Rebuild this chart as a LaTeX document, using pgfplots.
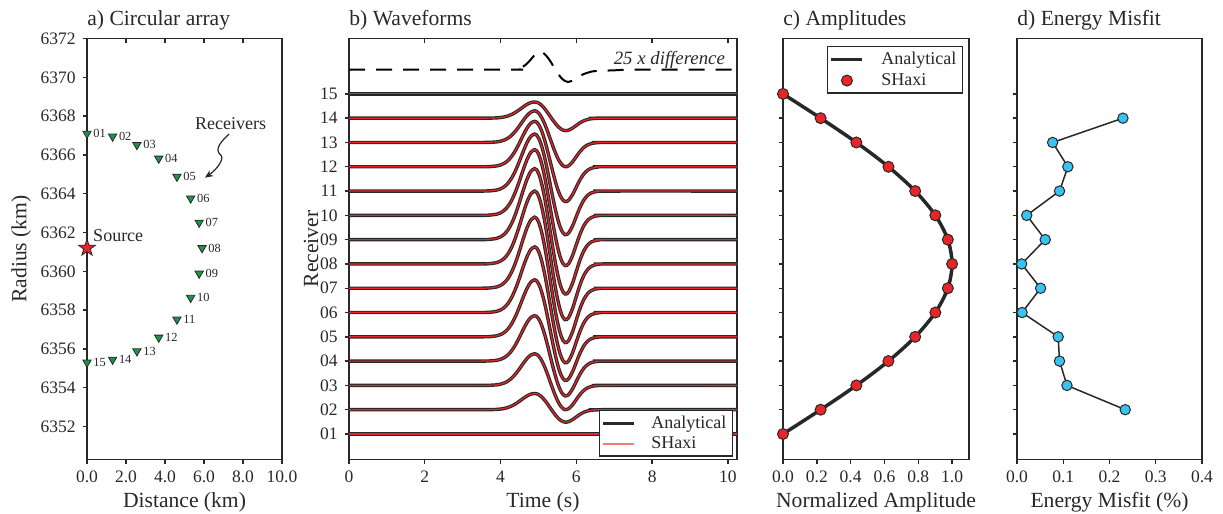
\documentclass[border=0pt]{standalone}
\usepackage{fontspec}
\setmainfont{Liberation Serif}
\usepackage{pgfplots}
\usepackage{pgfplotstable}
\pgfplotsset{compat=1.18}
\usetikzlibrary{arrows.meta}
\definecolor{mred}{RGB}{232,38,42}
\definecolor{lred}{RGB}{240,125,125}
\definecolor{mgreen}{RGB}{28,150,70}
\definecolor{mcyan}{RGB}{58,194,240}
\definecolor{dk}{RGB}{40,40,40}

\pgfdeclareplotmark{fstar}{%
  \pgfpathmoveto{\pgfpointpolar{90}{\pgfplotmarksize}}%
  \pgfpathlineto{\pgfpointpolar{126}{0.4\pgfplotmarksize}}%
  \pgfpathlineto{\pgfpointpolar{162}{\pgfplotmarksize}}%
  \pgfpathlineto{\pgfpointpolar{198}{0.4\pgfplotmarksize}}%
  \pgfpathlineto{\pgfpointpolar{234}{\pgfplotmarksize}}%
  \pgfpathlineto{\pgfpointpolar{270}{0.4\pgfplotmarksize}}%
  \pgfpathlineto{\pgfpointpolar{306}{\pgfplotmarksize}}%
  \pgfpathlineto{\pgfpointpolar{342}{0.4\pgfplotmarksize}}%
  \pgfpathlineto{\pgfpointpolar{18}{\pgfplotmarksize}}%
  \pgfpathlineto{\pgfpointpolar{54}{0.4\pgfplotmarksize}}%
  \pgfpathclose
  \pgfusepathqfillstroke}

% receiver positions
\pgfplotstableread{
x y lab
0.000 6367.100 01
1.313 6366.952 02
2.560 6366.516 03
3.679 6365.813 04
4.613 6364.879 05
5.316 6363.760 06
5.752 6362.513 07
5.900 6361.200 08
5.752 6359.887 09
5.316 6358.640 10
4.613 6357.521 11
3.679 6356.587 12
2.560 6355.884 13
1.313 6355.448 14
0.000 6355.300 15
}\recv

% base waveform (unit amplitude, in trace-spacing units)
\pgfplotstableread{
t w
0 0
3.30 0
3.50 0.001
3.70 0.009
3.90 0.055
4.00 0.118
4.10 0.232
4.20 0.423
4.30 0.711
4.40 1.104
4.50 1.581
4.60 2.093
4.70 2.557
4.80 2.883
4.90 3.000
4.95 2.951
5.00 2.808
5.05 2.574
5.10 2.260
5.15 1.876
5.20 1.438
5.25 0.954
5.30 0.451
5.35 -0.055
5.40 -0.546
5.45 -1.004
5.50 -1.413
5.55 -1.759
5.60 -2.026
5.65 -2.206
5.70 -2.294
5.75 -2.286
5.80 -2.200
5.90 -1.838
6.00 -1.336
6.10 -0.846
6.20 -0.466
6.30 -0.224
6.40 -0.094
6.50 -0.034
6.60 -0.011
6.80 0
10.24 0
}\wave

% 25 x difference trace
\pgfplotstableread{
t y
0 16
4.30 16.00
4.40 16.01
4.50 16.05
4.60 16.13
4.70 16.25
4.80 16.42
4.90 16.60
5.00 16.73
5.05 16.75
5.10 16.72
5.20 16.58
5.30 16.38
5.40 16.12
5.50 15.87
5.60 15.66
5.70 15.53
5.78 15.49
5.90 15.55
6.00 15.63
6.10 15.74
6.20 15.82
6.36 15.90
6.50 15.94
7.00 15.97
7.60 16.00
10.24 16.00
}\diff

% normalized amplitudes
\pgfplotstableread{
k a
1 0.0000
2 0.2225
3 0.4339
4 0.6235
5 0.7818
6 0.9010
7 0.9749
8 1.0000
9 0.9749
10 0.9010
11 0.7818
12 0.6235
13 0.4339
14 0.2225
15 0.0000
}\amps

% energy misfit (%)
\pgfplotstableread{
k m
2 0.234
3 0.108
4 0.092
5 0.089
6 0.011
7 0.051
8 0.010
9 0.061
10 0.021
11 0.092
12 0.110
13 0.077
14 0.229
}\misfit

\pgfplotsset{
  myax/.style={
    scale only axis, height=210.5pt, anchor=south west,
    axis line style={line width=0.9pt, draw=dk},
    tick style={line width=0.7pt, draw=dk},
    major tick length=2.2pt, tick align=outside,
    xtick pos=bottom, ytick pos=left,
    tick label style={font=\fontsize{8.75}{10}\selectfont, text=dk},
    label style={font=\fontsize{10.8}{12}\selectfont, text=dk},
    title style={font=\fontsize{10.8}{12}\selectfont, text=dk, at={(0,1)}, anchor=base west, inner sep=0pt, yshift=0.4pt},
    /pgf/number format/assume math mode=true,
    xlabel style={at={(axis description cs:0.5,-0.101)}, anchor=center},
  },
  topticks/.style={
    scale only axis, height=210.5pt, anchor=south west,
    axis x line*=top, axis y line=none, axis line style={draw=none},
    tick style={line width=0.7pt, draw=dk}, major tick length=2.2pt,
    tick align=inside, xticklabels={}, ymin=0, ymax=1,
  },
  blk/.style={line width=1.7pt, color=dk, smooth},
  rd/.style={line width=0.6pt, color=mred, smooth},
  legLine/.style={legend image code/.code={\draw[##1] (0pt,0pt) -- (15.5pt,0pt); \path[draw=none] (0pt,0pt) -- (23pt,0pt);}},
  legLineB/.style={legend image code/.code={\draw[##1] (0pt,0pt) -- (15.5pt,0pt); \path[draw=none] (0pt,0pt) -- (22pt,0pt);}},
  legMark/.style={legend image code/.code={\draw[##1] plot coordinates {(7.75pt,0pt)}; \path[draw=none] (0pt,0pt) -- (23pt,0pt);}},
}

\begin{document}
\begin{tikzpicture}
\path[use as bounding box] (0,0) rectangle (611.5pt,257pt);

% ---------------- a) Circular array
\begin{axis}[myax, at={(43.5pt,27.25pt)}, width=97.5pt,
  xmin=0, xmax=10, ymin=6350.3, ymax=6372,
  xtick={0,2,...,10}, ytick={6352,6354,...,6372},
  xticklabel style={/pgf/number format/.cd, fixed, fixed zerofill, precision=1},
  yticklabel style={/pgf/number format/.cd, 1000 sep={}},
  title={a) Circular array}, xlabel={Distance (km)}, ylabel={Radius (km)},
  ylabel style={at={(axis description cs:-0.338,0.5)}, anchor=center},
  clip=false]
\addplot[only marks, mark=triangle*, mark size=2.4pt,
  mark options={rotate=180, fill=mgreen, draw=dk, line width=0.4pt},
  nodes near coords, point meta=explicit symbolic,
  every node near coord/.append style={anchor=west, font=\fontsize{6.2}{7}\selectfont, text=dk, inner sep=0pt, xshift=3pt}]
  table[x=x, y=y, meta=lab] {\recv};
\addplot[only marks, mark=fstar, mark size=4.4pt,
  mark options={fill=mred, draw=dk, line width=0.4pt}]
  coordinates {(0,6361.2)};
\node[anchor=west, font=\fontsize{9}{10}\selectfont, text=dk, inner sep=0pt] at (axis cs:0.3,6361.85) {Source};
\node[anchor=center, font=\fontsize{9}{10}\selectfont, text=dk, inner sep=0pt] at (axis cs:7.36,6367.6) {Receivers};
\draw[dk, line width=0.6pt, -{Stealth[length=4pt,width=3.5pt]}]
  (axis cs:7.28,6367.08) .. controls (axis cs:6.9,6366.7) and (axis cs:6.5,6366.3) .. (axis cs:6.85,6366.0)
  .. controls (axis cs:7.1,6365.8) and (axis cs:6.6,6365.2) .. (axis cs:6.05,6364.83);
\end{axis}
\begin{axis}[topticks, at={(43.5pt,27.25pt)}, width=97.5pt, xmin=0, xmax=10, xtick={0,2,...,10}]
\addplot[draw=none, forget plot] coordinates {(0,0)};
\end{axis}

% ---------------- b) Waveforms
\begin{axis}[myax, at={(174.5pt,27.25pt)}, width=194pt,
  xmin=0, xmax=10.24, ymin=-0.05, ymax=17.28,
  xtick={0,2,...,10}, ytick={1,...,15},
  yticklabels={01,02,03,04,05,06,07,08,09,10,11,12,13,14,15},
  title={b) Waveforms}, xlabel={Time (s)}, ylabel={Receiver},
  ylabel style={at={(axis description cs:-0.098,0.5)}, anchor=center},
  legend style={at={(1,0)}, anchor=south east, xshift=-2pt, yshift=1.4pt,
    draw=dk, line width=0.6pt, font=\fontsize{9}{10}\selectfont, text=dk,
    inner xsep=1pt, inner ysep=0.5pt, row sep=-1.5pt},
  legend cell align=left]
\addlegendimage{line width=1.7pt, color=dk, legLineB}
\addlegendentry{Analytical}
\addlegendimage{line width=0.9pt, color=lred, legLineB}
\addlegendentry{SHaxi}
\addplot[line width=1pt, color=black, dash pattern=on 8pt off 5.5pt, smooth, forget plot] table[x=t, y=y] {\diff};
\node[anchor=east, font=\fontsize{9.4}{10}\selectfont\itshape, text=dk, inner sep=0pt] at (axis cs:9.93,16.42) {25 x difference};
\addplot[blk, forget plot] table[x=t, y expr=15+0.0000*\thisrow{w}] {\wave};
\addplot[rd,  forget plot] table[x=t, y expr=15+0.0000*\thisrow{w}] {\wave};
\addplot[blk, forget plot] table[x=t, y expr=14+0.2225*\thisrow{w}] {\wave};
\addplot[rd,  forget plot] table[x=t, y expr=14+0.2225*\thisrow{w}] {\wave};
\addplot[blk, forget plot] table[x=t, y expr=13+0.4339*\thisrow{w}] {\wave};
\addplot[rd,  forget plot] table[x=t, y expr=13+0.4339*\thisrow{w}] {\wave};
\addplot[blk, forget plot] table[x=t, y expr=12+0.6235*\thisrow{w}] {\wave};
\addplot[rd,  forget plot] table[x=t, y expr=12+0.6235*\thisrow{w}] {\wave};
\addplot[blk, forget plot] table[x=t, y expr=11+0.7818*\thisrow{w}] {\wave};
\addplot[rd,  forget plot] table[x=t, y expr=11+0.7818*\thisrow{w}] {\wave};
\addplot[blk, forget plot] table[x=t, y expr=10+0.9010*\thisrow{w}] {\wave};
\addplot[rd,  forget plot] table[x=t, y expr=10+0.9010*\thisrow{w}] {\wave};
\addplot[blk, forget plot] table[x=t, y expr=9+0.9749*\thisrow{w}] {\wave};
\addplot[rd,  forget plot] table[x=t, y expr=9+0.9749*\thisrow{w}] {\wave};
\addplot[blk, forget plot] table[x=t, y expr=8+1.0000*\thisrow{w}] {\wave};
\addplot[rd,  forget plot] table[x=t, y expr=8+1.0000*\thisrow{w}] {\wave};
\addplot[blk, forget plot] table[x=t, y expr=7+0.9749*\thisrow{w}] {\wave};
\addplot[rd,  forget plot] table[x=t, y expr=7+0.9749*\thisrow{w}] {\wave};
\addplot[blk, forget plot] table[x=t, y expr=6+0.9010*\thisrow{w}] {\wave};
\addplot[rd,  forget plot] table[x=t, y expr=6+0.9010*\thisrow{w}] {\wave};
\addplot[blk, forget plot] table[x=t, y expr=5+0.7818*\thisrow{w}] {\wave};
\addplot[rd,  forget plot] table[x=t, y expr=5+0.7818*\thisrow{w}] {\wave};
\addplot[blk, forget plot] table[x=t, y expr=4+0.6235*\thisrow{w}] {\wave};
\addplot[rd,  forget plot] table[x=t, y expr=4+0.6235*\thisrow{w}] {\wave};
\addplot[blk, forget plot] table[x=t, y expr=3+0.4339*\thisrow{w}] {\wave};
\addplot[rd,  forget plot] table[x=t, y expr=3+0.4339*\thisrow{w}] {\wave};
\addplot[blk, forget plot] table[x=t, y expr=2+0.2225*\thisrow{w}] {\wave};
\addplot[rd,  forget plot] table[x=t, y expr=2+0.2225*\thisrow{w}] {\wave};
\addplot[blk, forget plot] table[x=t, y expr=1+0.0000*\thisrow{w}] {\wave};
\addplot[rd,  forget plot] table[x=t, y expr=1+0.0000*\thisrow{w}] {\wave};
\end{axis}
\begin{axis}[topticks, at={(174.5pt,27.25pt)}, width=194pt, xmin=0, xmax=10.24, xtick={0,2,...,10}]
\addplot[draw=none, forget plot] coordinates {(0,0)};
\end{axis}

% ---------------- c) Amplitudes
\begin{axis}[myax, at={(391.5pt,27.25pt)}, width=93pt,
  xmin=0, xmax=1.1, ymin=-0.05, ymax=17.28,
  xtick={0,0.2,...,1.0}, ytick={1,...,15}, yticklabels={},
  xticklabel style={/pgf/number format/.cd, fixed, fixed zerofill, precision=1},
  title={c) Amplitudes}, xlabel={Normalized Amplitude},
  clip=false,
  legend style={at={(1,1)}, anchor=north east, xshift=-3pt, yshift=-3.75pt,
    draw=dk, line width=0.6pt, font=\fontsize{9}{10}\selectfont, text=dk,
    inner xsep=1pt, inner ysep=0.5pt, row sep=-1pt},
  legend cell align=left]
\addplot[line width=1.75pt, color=dk, smooth, legLine]
  table[x=a, y=k] {\amps};
\addlegendentry{Analytical}
\addplot[only marks, mark=*, mark size=2.75pt, mark options={fill=mred, draw=dk, line width=0.5pt}, legMark]
  table[x=a, y=k] {\amps};
\addlegendentry{SHaxi}
\end{axis}

% ---------------- d) Energy Misfit
\begin{axis}[myax, at={(508.5pt,27.25pt)}, width=92.5pt,
  xmin=0, xmax=0.4, ymin=-0.05, ymax=17.28,
  xtick={0,0.1,...,0.4}, ytick={1,...,15}, yticklabels={},
  xticklabel style={/pgf/number format/.cd, fixed, fixed zerofill, precision=1},
  title={d) Energy Misfit}, xlabel={Energy Misfit (\%)}, clip=false]
\addplot[line width=0.75pt, color=dk, mark=*, mark size=2.6pt,
  mark options={fill=mcyan, draw=dk, line width=0.5pt}]
  table[x=m, y=k] {\misfit};
\end{axis}
\end{tikzpicture}
\end{document}
